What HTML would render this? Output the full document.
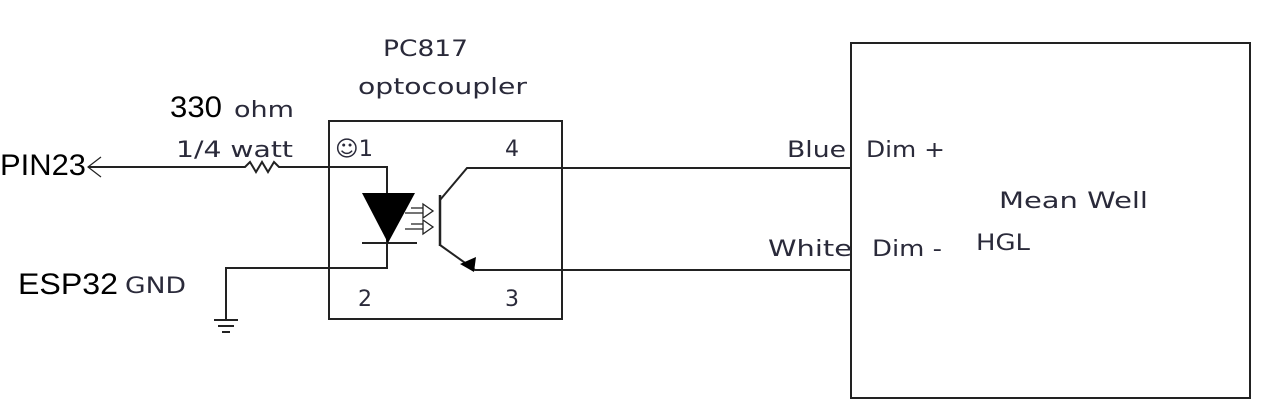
<!DOCTYPE html>
<html><head><meta charset="utf-8"><style>
html,body{margin:0;padding:0;background:#fff;}
svg{display:block}
text{font-family:"DejaVu Sans","Liberation Sans",sans-serif;fill:#2a2a3a;}
.a{font-family:"Liberation Sans",sans-serif;fill:#000;}
</style></head><body>
<svg width="1265" height="420" viewBox="0 0 1265 420" xmlns="http://www.w3.org/2000/svg">
<g stroke="#222" stroke-width="2" fill="none">
<rect x="329" y="121" width="233" height="198"/>
<rect x="851" y="43" width="399" height="355"/>
<polyline points="88,167 245,167 250,162 256,172 262,162 268,172 274,162 279,167 387,167 387,268 226,268 226,320"/>
<polyline points="101,157 88,167 101,177" stroke-width="1.2"/>
<line x1="214" y1="320" x2="238" y2="320"/>
<line x1="218" y1="326" x2="234" y2="326"/>
<line x1="222" y1="332" x2="230" y2="332"/>
<line x1="362" y1="243" x2="417" y2="243"/>
<line x1="440" y1="195" x2="440" y2="246" stroke-width="2.5"/>
<polyline points="440,200 467,168 851,168"/>
<polyline points="440,245 475,270 851,270"/>
<path d="M411,208 h12 M405,213 h18 M411,224 h12 M405,229 h18" stroke-width="1.3"/>
<path d="M423,204 l10,7 l-10,7 z M423,220 l10,7 l-10,7 z" stroke-width="1.3"/>
</g>
<polygon points="362,193 415,193 388,243" fill="#000"/>
<polygon points="460,264 476,257 474,272" fill="#000"/>
<g font-size="22">
<text x="383" y="56" textLength="85" lengthAdjust="spacingAndGlyphs">PC817</text>
<text x="358" y="94" textLength="169" lengthAdjust="spacingAndGlyphs">optocoupler</text>
<text x="234" y="117" textLength="60" lengthAdjust="spacingAndGlyphs">ohm</text>
<text x="176" y="157" textLength="117" lengthAdjust="spacingAndGlyphs">1/4 watt</text>
<text x="125" y="293" textLength="61" lengthAdjust="spacingAndGlyphs">GND</text>
<text x="335" y="156" textLength="38" lengthAdjust="spacingAndGlyphs">☺1</text>
<text x="505" y="156">4</text>
<text x="358" y="306">2</text>
<text x="505" y="306">3</text>
<text x="787" y="157" textLength="59" lengthAdjust="spacingAndGlyphs">Blue</text>
<text x="866" y="157" textLength="79" lengthAdjust="spacingAndGlyphs">Dim +</text>
<text x="999" y="208" textLength="149" lengthAdjust="spacingAndGlyphs">Mean Well</text>
<text x="768" y="256" textLength="84" lengthAdjust="spacingAndGlyphs">White</text>
<text x="872" y="256" textLength="70" lengthAdjust="spacingAndGlyphs">Dim -</text>
<text x="976" y="250" textLength="54" lengthAdjust="spacingAndGlyphs">HGL</text>
</g>
<text class="a" x="170" y="117" font-size="30" textLength="52" lengthAdjust="spacingAndGlyphs">330</text>
<text class="a" x="0" y="175" font-size="30" textLength="86" lengthAdjust="spacingAndGlyphs">PIN23</text>
<text class="a" x="18" y="294" font-size="30" textLength="100" lengthAdjust="spacingAndGlyphs">ESP32</text>
</svg>
</body></html>
